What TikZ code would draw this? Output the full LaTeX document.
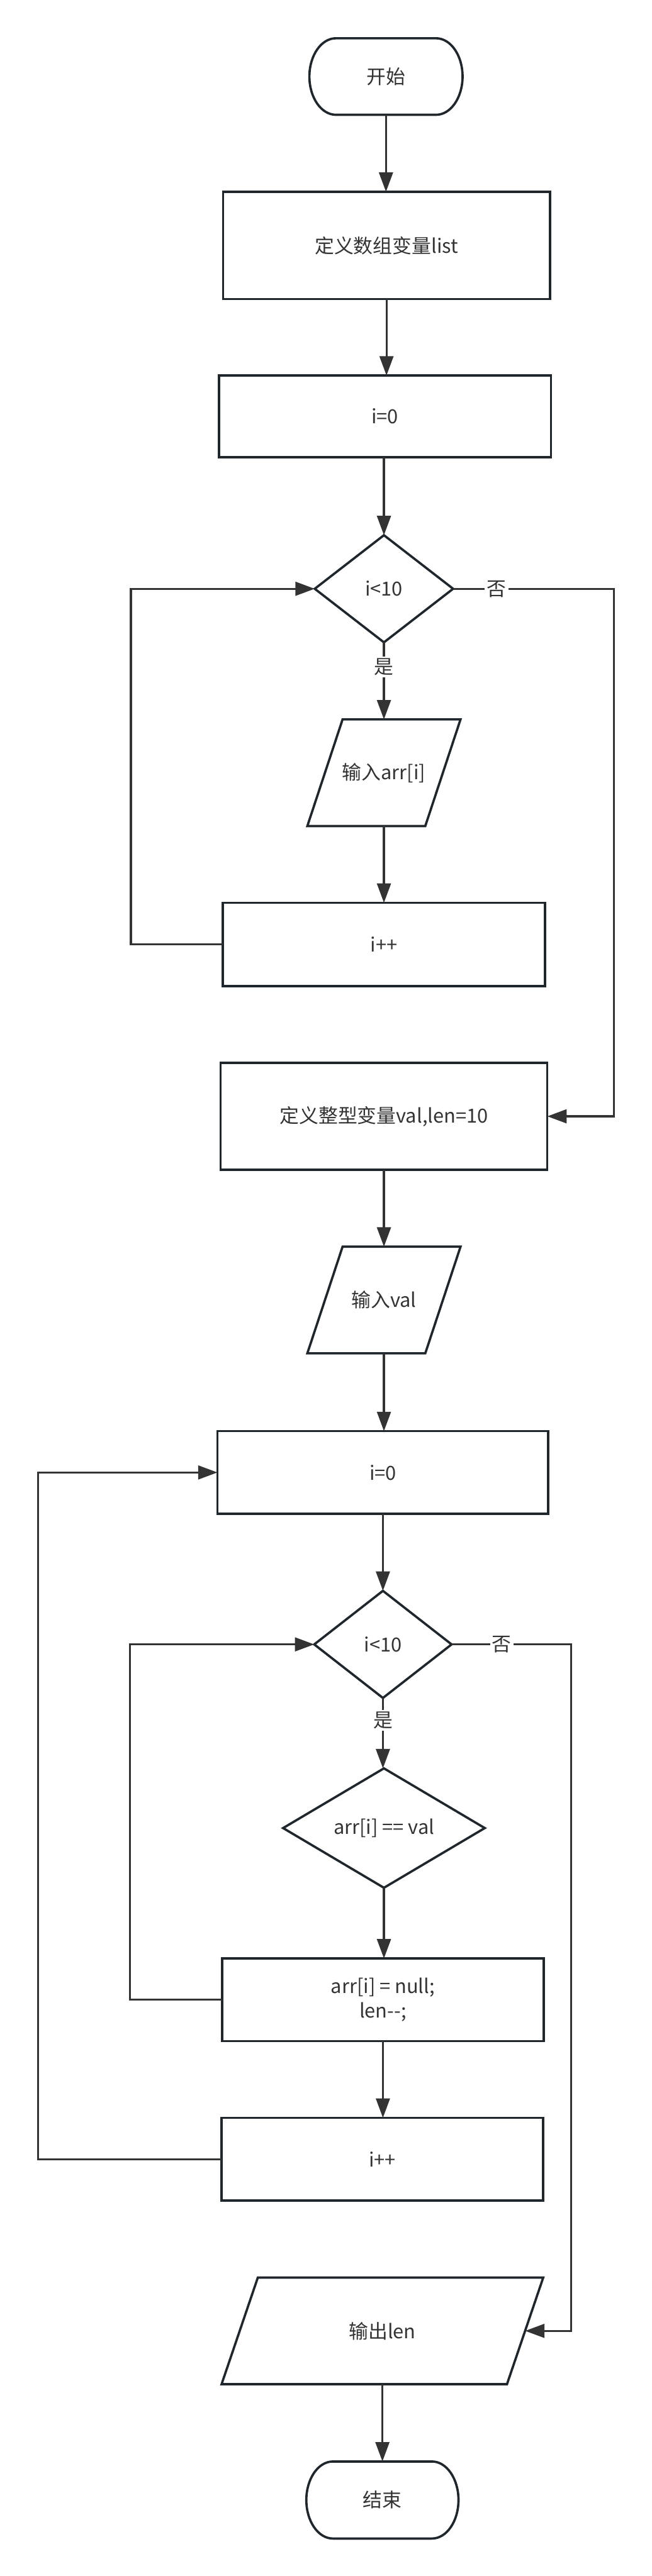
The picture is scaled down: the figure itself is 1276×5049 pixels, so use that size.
\documentclass[tikz,border=0pt]{standalone}
\usepackage{fontspec}
\setmainfont{Noto Sans CJK SC}
\usetikzlibrary{arrows.meta,shapes.geometric,calc}
\definecolor{ln}{RGB}{31,38,44}
\definecolor{tx}{RGB}{51,51,51}
\begin{document}
\begin{tikzpicture}[x=1pt,y=1pt,
  base/.style={inner sep=0pt, outer sep=0pt, text=tx, font=\fontsize{38}{48}\selectfont, align=center},
  procbox/.style={base, draw=ln, line width=4.5pt, rectangle},
  slot/.style={base, draw=none, rectangle},
  decide/.style={base, draw=ln, line width=4.5pt, diamond},
  outline/.style={draw=ln, line width=4.5pt, line join=miter},
  conn/.style={draw=tx, line width=4pt, -{Triangle[length=38pt,width=27pt]}},
  lbl/.style={fill=white, text=tx, font=\fontsize{38}{48}\selectfont, inner sep=4pt}
]
\useasboundingbox (0,0) rectangle (1276,-5049);

% nodes
\node[slot, minimum width=300pt, minimum height=150pt] (start) at (756,-150) {开始};
\draw[outline] ([xshift=52pt]start.north west) -- ([xshift=-52pt]start.north east)
  arc[start angle=90,end angle=-90,x radius=52pt,y radius=75pt]
  -- ([xshift=52pt]start.south west)
  arc[start angle=270,end angle=90,x radius=52pt,y radius=75pt] -- cycle;

\node[procbox, minimum width=640pt, minimum height=210pt] (list) at (757,-481) {定义数组变量list};
\node[procbox, minimum width=650pt, minimum height=160pt] (init1) at (754,-816) {i=0};
\node[decide, minimum width=271pt, minimum height=210pt] (cond1) at (752,-1154) {i<10};

\node[slot, minimum width=300pt, minimum height=209pt] (in1) at (752,-1514.5) {输入arr[i]};
\draw[outline] ([xshift=69pt]in1.north west) -- (in1.north east)
  -- ([xshift=-69pt]in1.south east) -- (in1.south west) -- cycle;

\node[procbox, minimum width=631pt, minimum height=163pt] (inc1) at (752,-1851) {i++};
\node[procbox, minimum width=640pt, minimum height=210pt] (def2) at (752,-2188) {定义整型变量val,len=10};

\node[slot, minimum width=300pt, minimum height=209pt] (in2) at (752,-2548) {输入val};
\draw[outline] ([xshift=69pt]in2.north west) -- (in2.north east)
  -- ([xshift=-69pt]in2.south east) -- (in2.south west) -- cycle;

\node[procbox, minimum width=648pt, minimum height=162pt] (init2) at (750,-2886) {i=0};
\node[decide, minimum width=269pt, minimum height=210pt] (cond2) at (750,-3223) {i<10};
\node[decide, minimum width=395pt, minimum height=208pt] (eq) at (752,-3583) {arr[i] == val};
\node[procbox, minimum width=630pt, minimum height=162pt] (del) at (750,-3919.5) {arr[i] = null;\\len{-}{-};};
\node[procbox, minimum width=630pt, minimum height=162pt] (inc2) at (749,-4232) {i++};

\node[slot, minimum width=630pt, minimum height=209pt] (out) at (749,-4568.5) {输出len};
\draw[outline] ([xshift=71pt]out.north west) -- (out.north east)
  -- ([xshift=-71pt]out.south east) -- (out.south west) -- cycle;
\coordinate (outE) at ([xshift=-35.5pt]out.east);

\node[slot, minimum width=298pt, minimum height=151pt] (end) at (749,-4900) {结束};
\draw[outline] ([xshift=52pt]end.north west) -- ([xshift=-52pt]end.north east)
  arc[start angle=90,end angle=-90,x radius=52pt,y radius=75.5pt]
  -- ([xshift=52pt]end.south west)
  arc[start angle=270,end angle=90,x radius=52pt,y radius=75.5pt] -- cycle;

% connectors
\draw[conn] (start.south) -- (list.north -| start.south);
\draw[conn] (list.south) -- (init1.north -| list.south);
\draw[conn] (init1.south -| cond1.north) -- (cond1.north);
\draw[conn] (cond1.south) -- node[lbl,pos=0.32]{是} (in1.north);
\draw[conn] (in1.south) -- (inc1.north);
\draw[conn] (inc1.west) -- ++(-180,0) |- (cond1.west);
\draw[conn] (cond1.east) -- node[lbl,pos=0.27]{否} ++(315,0) |- (def2.east);
\draw[conn] (def2.south) -- (in2.north);
\draw[conn] (in2.south) -- (init2.north -| in2.south);
\draw[conn] (init2.south) -- (cond2.north);
\draw[conn] (cond2.south) -- node[lbl,pos=0.32]{是} (eq.north -| cond2.south);
\draw[conn] (eq.south) -- (del.north -| eq.south);
\draw[conn] (del.west) -- ++(-180,0) |- (cond2.west);
\draw[conn] (del.south) -- (inc2.north -| del.south);
\draw[conn] (inc2.west) -- ++(-359,0) |- (init2.west);
\draw[conn] (cond2.east) -- node[lbl,pos=0.42]{否} ++(234,0) |- (outE);
\draw[conn] (out.south) -- (end.north);
\end{tikzpicture}
\end{document}
